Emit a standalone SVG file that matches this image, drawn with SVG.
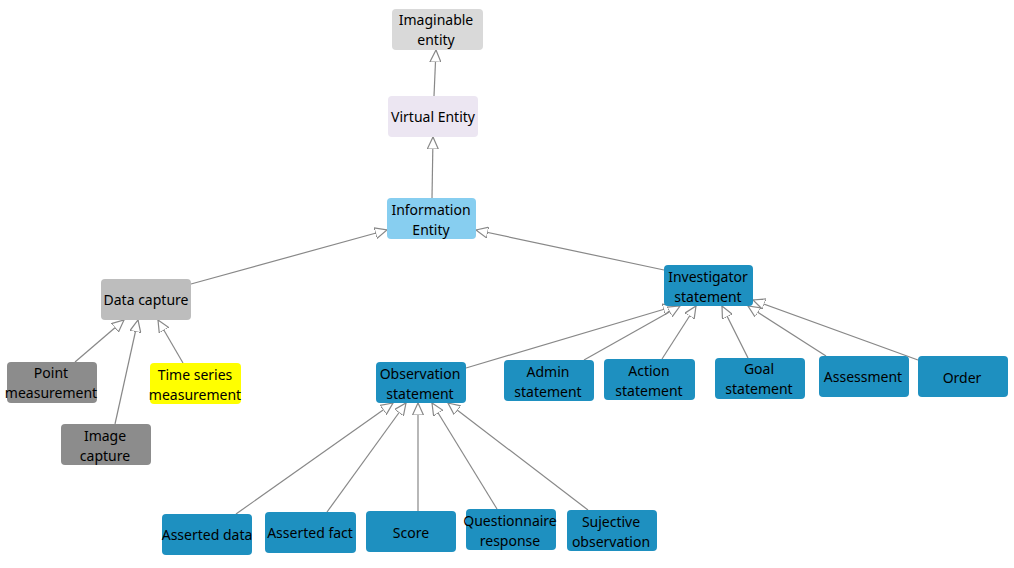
<svg xmlns="http://www.w3.org/2000/svg" width="1014" height="568" viewBox="0 0 1014 568">
<style>
.n rect{rx:4;ry:4}
.n text{font-family:"Noto Sans","Open Sans",sans-serif;font-size:14px;fill:#000;text-anchor:middle}
.e line{stroke:#888;stroke-width:1.2;marker-end:url(#tri)}
</style>
<defs>
<marker id="tri" markerUnits="userSpaceOnUse" markerWidth="14" markerHeight="12" refX="12" refY="6" orient="auto">
<path d="M0,0.5 L12,6 L0,11.5 Z" fill="#fff" stroke="#888" stroke-width="1.2"/>
</marker>
</defs>
<rect width="1014" height="568" fill="#fff"/>
<g class="e" id="edges">
<line x1="434" y1="96" x2="436" y2="50"/>
<line x1="432" y1="198" x2="433" y2="137"/>
<line x1="191" y1="284" x2="387" y2="230"/>
<line x1="664" y1="270" x2="476" y2="230"/>
<line x1="75" y1="362" x2="124" y2="320" style="stroke:#888"/>
<line x1="115" y1="424" x2="138" y2="320"/>
<line x1="183" y1="363" x2="158" y2="320"/>
<line x1="466" y1="368" x2="675" y2="306"/>
<line x1="584" y1="360" x2="680" y2="306"/>
<line x1="662" y1="359" x2="696" y2="306"/>
<line x1="748" y1="358" x2="722" y2="306"/>
<line x1="826" y1="356" x2="748" y2="306"/>
<line x1="918" y1="360" x2="753" y2="300"/>
<line x1="236" y1="514" x2="393" y2="403"/>
<line x1="327" y1="512" x2="406" y2="403"/>
<line x1="418" y1="511" x2="418" y2="403"/>
<line x1="497" y1="509" x2="432" y2="403"/>
<line x1="588" y1="510" x2="448" y2="403"/>
</g>
<g class="n" id="imaginable"><rect x="392" y="9" width="91" height="41" fill="#d9d9d9"/><text x="436" y="25">Imaginable</text><text x="436" y="45">entity</text></g>
<g class="n" id="virtual"><rect x="388" y="96" width="90" height="41" fill="#ece6f2"/><text x="433" y="122">Virtual Entity</text></g>
<g class="n" id="information"><rect x="387" y="198" width="89" height="41" fill="#87cef0"/><text x="431" y="215">Information</text><text x="431" y="235">Entity</text></g>
<g class="n" id="datacapture"><rect x="101" y="279" width="90" height="41" fill="#bdbdbd"/><text x="146" y="305">Data capture</text></g>
<g class="n" id="investigator"><rect x="664" y="265" width="89" height="41" fill="#1e90c0"/><text x="708" y="282">Investigator</text><text x="708" y="302">statement</text></g>
<g class="n" id="point"><rect x="7" y="362" width="90" height="41" fill="#8c8c8c"/><text x="51" y="378">Point</text><text x="51" y="398">measurement</text></g>
<g class="n" id="timeseries"><rect x="150" y="363" width="91" height="41" fill="#ffff00"/><text x="195" y="380">Time series</text><text x="195" y="400">measurement</text></g>
<g class="n" id="image"><rect x="61" y="424" width="90" height="41" fill="#8c8c8c"/><text x="105" y="441">Image</text><text x="105" y="461">capture</text></g>
<g class="n" id="observation"><rect x="376" y="362" width="90" height="41" fill="#1e90c0"/><text x="420" y="379">Observation</text><text x="420" y="399">statement</text></g>
<g class="n" id="admin"><rect x="504" y="360" width="90" height="41" fill="#1e90c0"/><text x="548" y="377">Admin</text><text x="548" y="397">statement</text></g>
<g class="n" id="action"><rect x="604" y="359" width="91" height="41" fill="#1e90c0"/><text x="649" y="376">Action</text><text x="649" y="396">statement</text></g>
<g class="n" id="goal"><rect x="715" y="358" width="90" height="41" fill="#1e90c0"/><text x="759" y="374">Goal</text><text x="759" y="394">statement</text></g>
<g class="n" id="assessment"><rect x="819" y="356" width="90" height="41" fill="#1e90c0"/><text x="863" y="382">Assessment</text></g>
<g class="n" id="order"><rect x="918" y="356" width="90" height="41" fill="#1e90c0"/><text x="962" y="383">Order</text></g>
<g class="n" id="asserteddata"><rect x="162" y="514" width="90" height="41" fill="#1e90c0"/><text x="207" y="540">Asserted data</text></g>
<g class="n" id="assertedfact"><rect x="265" y="512" width="91" height="41" fill="#1e90c0"/><text x="310" y="538">Asserted fact</text></g>
<g class="n" id="score"><rect x="366" y="511" width="90" height="41" fill="#1e90c0"/><text x="411" y="538">Score</text></g>
<g class="n" id="questionnaire"><rect x="466" y="509" width="90" height="41" fill="#1e90c0"/><text x="510" y="526">Questionnaire</text><text x="510" y="546">response</text></g>
<g class="n" id="sujective"><rect x="567" y="510" width="90" height="41" fill="#1e90c0"/><text x="611" y="527">Sujective</text><text x="611" y="547">observation</text></g>
</svg>
